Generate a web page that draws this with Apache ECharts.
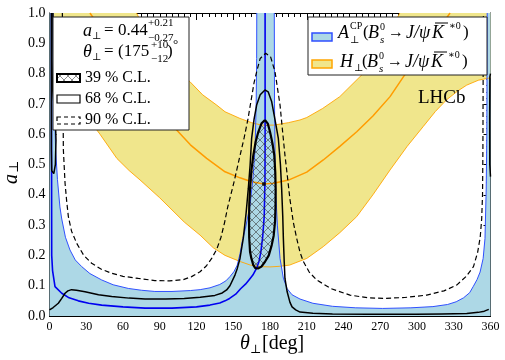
<!DOCTYPE html>
<html>
<head>
<meta charset="utf-8">
<script src="https://cdn.jsdelivr.net/npm/echarts@6/dist/echarts.min.js"></script>
<style>
  html, body { margin: 0; padding: 0; background: #fff; }
  #chartmain { width: 505px; height: 360px; }
</style>
</head>
<body>
<div id="chartmain"></div>
<script>
// all points are [theta_perp in deg, a_perp]
var xMin = 0, xMax = 360, xStep = 30;
var yMin = 0, yMax = 1, yStep = 0.1;

// A_perp^CP band: upper edge left of 180 and right of 180
var blueEdgeLeft = [[2.8,1],[3.3,0.85],[4,0.7],[5,0.55],[6.5,0.45],[8.5,0.36],[10,0.32],[13,0.26],[16.7,0.218],[21,0.185],[26.3,0.163],[33,0.14],[42.6,0.119],[52,0.103],[64.3,0.091],[75,0.085],[86,0.081],[100,0.081],[115,0.084],[123,0.087],[131,0.093],[139,0.104],[144,0.116],[147.3,0.13],[150.5,0.146],[153.3,0.168],[155.5,0.205],[157.5,0.25],[160,0.29],[163.7,0.366],[166,0.45],[167.8,0.55],[168.7,0.7],[169.1,0.85],[169.2,1]];
var blueEdgeRight = [[183.5,1],[183.7,0.7],[184.2,0.5],[184.8,0.4],[186,0.3],[188.2,0.19],[190.9,0.125],[194,0.09],[198,0.07],[204.5,0.056],[215,0.042],[231,0.032],[250,0.027],[272,0.025],[295,0.027],[313,0.031],[325,0.038],[332,0.047],[338,0.06],[343,0.077],[346,0.098],[349,0.12],[351.5,0.145],[354,0.19],[355.5,0.256],[356.5,0.42],[357,0.6],[357.3,1]];
// A_perp^CP central value
var blueCentral = [[1.6,1],[1.7,0.5],[1.8,0.2],[2.5,0.15],[4.5,0.097],[10,0.075],[16,0.06],[23.5,0.05],[32,0.042],[42.6,0.036],[60,0.03],[78,0.026],[100,0.026],[120,0.03],[131,0.036],[139,0.043],[143.3,0.05],[147,0.058],[152,0.072],[156,0.09],[160,0.105],[163,0.12],[166,0.135],[169,0.157],[171,0.18],[172.5,0.21],[174,0.26],[175.3,0.33],[175.9,0.45],[176,0.6],[176,1]];

// H_perp band
var yellowLower = [[2,1],[6,0.92],[10,0.85],[15,0.79],[20,0.74],[30,0.66],[41.2,0.6],[55,0.52],[65,0.48],[73.9,0.449],[90,0.39],[100,0.35],[110,0.31],[122.9,0.267],[133.7,0.225],[143.3,0.2],[155.5,0.18],[164,0.168],[172,0.163],[180,0.162],[188,0.164],[196,0.168],[210,0.19],[223.5,0.229],[237,0.275],[250.8,0.328],[264,0.4],[278,0.482],[292,0.56],[305,0.625],[315,0.675],[324,0.713],[333,0.742],[340.6,0.762],[350,0.778],[357,0.784],[360,0.786]];
var yellowUpper = [[71,1],[80,0.93],[90,0.87],[100,0.83],[114.7,0.773],[125,0.73],[136.5,0.696],[143.3,0.674],[155.5,0.652],[165,0.638],[173,0.63],[183,0.63],[195,0.638],[204.5,0.647],[210,0.655],[223,0.685],[237,0.724],[256,0.8],[270,0.88],[286,1]];
var yellowCentral = [[33,1],[45,0.93],[55,0.87],[69,0.8],[80,0.72],[90,0.67],[103.8,0.614],[115,0.565],[128.3,0.52],[143.3,0.476],[155.5,0.456],[165,0.443],[175,0.436],[183,0.438],[196,0.45],[210,0.475],[223.5,0.515],[237,0.56],[250.8,0.608],[264,0.66],[278,0.724],[289,0.79],[300,0.85],[313,0.92],[327,1]];

// fit contours
var bestFit = [[175, 0.436]];
var contour39 = [[175.9,0.647],[178.2,0.635],[180,0.608],[182,0.57],[183.5,0.531],[184.3,0.475],[184.6,0.421],[184.5,0.36],[184.1,0.311],[183,0.265],[181.4,0.234],[179,0.2],[175.9,0.179],[173,0.163],[170.5,0.157],[168,0.158],[166.4,0.168],[164.8,0.19],[163.7,0.212],[163,0.26],[162.9,0.311],[163.1,0.37],[163.7,0.421],[164.8,0.48],[166.4,0.531],[168.3,0.575],[170.5,0.608],[173,0.635],[175.9,0.647]];
var contour68 = [[0,0.02],[3,0.028],[7.2,0.042],[10,0.058],[12.7,0.075],[15,0.083],[18,0.087],[22,0.085],[29,0.08],[40,0.07],[50.8,0.064],[65,0.059],[78,0.056],[95,0.056],[110,0.058],[123,0.062],[135,0.068],[141,0.076],[144.6,0.086],[147.3,0.1],[151.4,0.135],[153.3,0.157],[155.5,0.19],[158.2,0.257],[160.5,0.34],[162.3,0.421],[163.8,0.5],[165,0.586],[167,0.65],[169.1,0.696],[172,0.73],[175.9,0.746],[178.5,0.74],[181.4,0.707],[184,0.65],[186.8,0.586],[188.5,0.5],[189.5,0.421],[190.4,0.33],[190.9,0.257],[191.6,0.18],[192.2,0.124],[194,0.08],[196.3,0.045],[198,0.03],[201,0.02],[204.5,0.013],[215,0.009],[231,0.007],[260,0.006],[299,0.006],[320,0.007],[340.6,0.008],[350,0.012],[355,0.016],[358.6,0.022],[360,0.025]];
var contour68EdgeLeft = [[2.8,1],[3,0.85],[2.6,0.75],[3.2,0.72],[4.8,0.65],[5.3,0.58],[4.8,0.5],[3.5,0.47],[2.5,0.465],[1.8,0.48],[1.5,0.55],[1.5,1]];
var contour68EdgeRight = [[360,0.46],[359.4,0.5],[359.3,0.65],[359.5,0.79],[360,0.8]];
var contour90 = [[10.5,1],[11,0.75],[11.3,0.55],[12.7,0.438],[14,0.38],[15.4,0.328],[18,0.28],[22.2,0.24],[28,0.2],[34.4,0.174],[42,0.155],[50.8,0.141],[60,0.131],[72.5,0.124],[86,0.117],[98,0.116],[109.2,0.12],[116,0.13],[122.9,0.146],[128,0.165],[132.4,0.19],[136.5,0.22],[140,0.26],[143,0.31],[145.5,0.36],[148,0.4],[150.5,0.44],[155,0.52],[159,0.59],[162,0.65],[164.5,0.71],[167,0.77],[169.1,0.806],[172,0.85],[176.5,0.867],[180.5,0.855],[184.1,0.806],[188.2,0.696],[190.5,0.6],[192.2,0.531],[194.5,0.45],[196.3,0.385],[199,0.31],[201.8,0.256],[204.5,0.21],[207.2,0.18],[212,0.145],[218.1,0.119],[230,0.09],[245.3,0.069],[260,0.06],[272.5,0.058],[290,0.061],[308,0.069],[322,0.083],[332.4,0.102],[340,0.13],[346.1,0.163],[349.5,0.21],[351.6,0.26],[352.8,0.32],[353.5,0.4],[353.8,0.55],[354,0.8],[354.2,1]];

var SERIF = "'Liberation Serif', 'DejaVu Serif', serif";
var LIGHTBLUE = "#add8e6", KHAKI = "#f0e68c", ORANGE = "#ffa500";

// cross hatch tile for the 39% region (as a data url so echarts can copy the style)
var hatch = document.createElement("canvas");
hatch.width = 8; hatch.height = 8;
var hctx = hatch.getContext("2d");
hctx.strokeStyle = "rgba(50,50,50,0.8)";
hctx.lineWidth = 0.7;
hctx.beginPath();
hctx.moveTo(0, 0); hctx.lineTo(8, 8);
hctx.moveTo(8, 0); hctx.lineTo(0, 8);
hctx.stroke();
var hatchUrl = hatch.toDataURL();
function hatchFill() { return { image: hatchUrl, repeat: "repeat" }; }

function polygonSeries(points, fill) {
  return {
    type: "custom",
    coordinateSystem: "cartesian2d",
    clip: true,
    z: 2,
    data: [[0, 0]],
    silent: true,
    renderItem: function(params, api) {
      var pts = points.map(function(p) { return api.coord(p); });
      return { type: "polygon", shape: { points: pts }, style: { fill: fill, stroke: null } };
    }
  };
}

function lineSeries(data, color, width, dashed, z) {
  return {
    type: "line",
    data: data,
    z: z,
    showSymbol: false,
    symbol: "none",
    silent: true,
    lineStyle: { color: color, width: width, type: dashed ? [5, 3] : "solid" }
  };
}

// yellow band outline: lower edge, then along the top, then upper edge back
var bandTop = [[360, 1]];
var yellowBand = yellowLower.concat(bandTop, yellowUpper.slice().reverse());
var blueFill = [[0, 1]].concat(blueEdgeLeft, blueEdgeRight, [[360, 1]]);

function txt(x, y, s, size, italic) {
  return {
    type: "text", x: x, y: y, z: 100,
    style: {
      text: s, fontFamily: SERIF, fontSize: size,
      fontStyle: italic ? "italic" : "normal",
      fill: "#000", align: "left", verticalAlign: "middle"
    }
  };
}

function axisCommon(pos, isX, showLabel) {
  return {
    type: "value",
    position: pos,
    min: isX ? xMin : yMin,
    max: isX ? xMax : yMax,
    interval: isX ? xStep : yStep,
    axisLine: { show: true, onZero: false, lineStyle: { color: "#000", width: 1 } },
    axisTick: { show: true, inside: true, length: 7, lineStyle: { color: "#000", width: 1 } },
    minorTick: { show: true, splitNumber: isX ? 6 : 5, length: 4, lineStyle: { color: "#000", width: 1 } },
    splitLine: { show: false },
    axisLabel: {
      show: showLabel,
      fontFamily: SERIF,
      fontSize: isX ? 12 : 14,
      color: "#000",
      margin: isX ? 5 : 4,
      formatter: isX ? "{value}" : function(v) { return v.toFixed(1); }
    }
  };
}

var graphics = [
  // left legend
  { type: "rect", z: 99, shape: { x: 53, y: 17, width: 136, height: 113 }, style: { fill: "#fff", stroke: "#222", lineWidth: 1 } },
  txt(83, 31, "a", 18, true), txt(92, 36, "⊥", 10), txt(104, 31, "=", 17), txt(118, 31, "0.44", 17),
  txt(148, 23, "+0.21", 11), txt(148, 38, "−0.27", 11),
  txt(83, 52, "θ", 18, true), txt(92, 57, "⊥", 10), txt(104, 52, "=", 17), txt(118, 52, "(175", 17),
  txt(151, 45, "+10", 11), txt(151, 59, "−12", 11), txt(167, 52, ")", 17), txt(173, 45, "°", 13),
  { type: "rect", z: 100, shape: { x: 57, y: 74, width: 23, height: 8 }, style: { fill: hatchFill(), stroke: "#000", lineWidth: 2 } },
  txt(85, 78, "39 % C.L.", 16),
  { type: "rect", z: 100, shape: { x: 57, y: 95, width: 23, height: 8 }, style: { fill: "#fff", stroke: "#000", lineWidth: 1.2 } },
  txt(85, 99, "68 % C.L.", 16),
  { type: "rect", z: 100, shape: { x: 57, y: 117, width: 23, height: 7 }, style: { fill: "#fff", stroke: "#000", lineWidth: 1.2, lineDash: [4, 3] } },
  txt(85, 120, "90 % C.L.", 16),
  // right legend
  { type: "rect", z: 99, shape: { x: 308, y: 17, width: 179, height: 58 }, style: { fill: "#fff", stroke: "#222", lineWidth: 1 } },
  { type: "rect", z: 100, shape: { x: 312, y: 33, width: 20, height: 8 }, style: { fill: LIGHTBLUE, stroke: "#2f4fff", lineWidth: 1.5 } },
  txt(338, 33, "A", 18, true), txt(350, 26, "CP", 10), txt(350, 40, "⊥", 10),
  txt(363, 33, "(", 17), txt(368, 33, "B", 18, true), txt(380, 27, "0", 10), txt(380, 40, "s", 11, true),
  txt(388, 33, "→", 16), txt(406, 33, "J/ψ", 18, true), txt(432, 33, "K", 18, true),
  { type: "line", z: 100, shape: { x1: 435, y1: 23, x2: 448, y2: 23 }, style: { stroke: "#000", lineWidth: 1 } },
  txt(449, 26, "∗0", 10), txt(463, 33, ")", 17),
  { type: "rect", z: 100, shape: { x: 312, y: 60, width: 20, height: 8 }, style: { fill: KHAKI, stroke: ORANGE, lineWidth: 1.5 } },
  txt(340, 62, "H", 18, true), txt(354, 68, "⊥", 10),
  txt(362, 62, "(", 17), txt(367, 62, "B", 18, true), txt(379, 56, "0", 10), txt(379, 69, "s", 11, true),
  txt(387, 62, "→", 16), txt(405, 62, "J/ψ", 18, true), txt(431, 62, "K", 18, true),
  { type: "line", z: 100, shape: { x1: 434, y1: 52, x2: 447, y2: 52 }, style: { stroke: "#000", lineWidth: 1 } },
  txt(448, 55, "∗0", 10), txt(462, 62, ")", 17),
  // experiment label
  txt(418, 98, "LHCb", 19),
  // axis titles
  txt(240, 344, "θ", 20, true), txt(250, 350, "⊥", 12), txt(262, 344, "[deg]", 20),
  { type: "text", x: 12, y: 179, rotation: Math.PI / 2, z: 100,
    style: { text: "a", fontFamily: SERIF, fontSize: 20, fontStyle: "italic", fill: "#000", align: "center", verticalAlign: "middle" } },
  { type: "text", x: 15, y: 167, rotation: Math.PI / 2, z: 100,
    style: { text: "⊥", fontFamily: SERIF, fontSize: 13, fill: "#000", align: "center", verticalAlign: "middle" } }
];

var option = {
  animation: false,
  backgroundColor: "#fff",
  grid: { left: 49.5, right: 14.5, top: 13, bottom: 44 },
  xAxis: [axisCommon("bottom", true, true), axisCommon("top", true, false)],
  yAxis: [axisCommon("left", false, true), axisCommon("right", false, false)],
  series: [
    polygonSeries(yellowBand, KHAKI),
    {
      type: "line", data: blueFill, z: 3, showSymbol: false, symbol: "none", silent: true,
      lineStyle: { width: 0, opacity: 0 },
      areaStyle: { color: LIGHTBLUE, opacity: 1 }
    },
    lineSeries(yellowLower, ORANGE, 0.9, false, 4),
    lineSeries(yellowUpper, ORANGE, 0.9, false, 4),
    lineSeries(yellowCentral, "#ff9c00", 1.5, false, 4),
    lineSeries(blueEdgeLeft, "#3050ff", 1, false, 4),
    lineSeries(blueEdgeRight, "#3050ff", 1, false, 4),
    lineSeries(blueCentral, "#0000f0", 1.6, false, 4),
    lineSeries(contour39, "#000", 2.2, false, 6),
    lineSeries(contour68, "#000", 1.5, false, 6),
    lineSeries(contour68EdgeLeft, "#000", 1.5, false, 6),
    lineSeries(contour68EdgeRight, "#000", 1.5, false, 6),
    lineSeries(contour90, "#000", 1.2, true, 6),
    { type: "scatter", data: bestFit, z: 6, symbolSize: 4, itemStyle: { color: "#000" }, silent: true }
  ]
};

var myChart = echarts.init(document.getElementById("chartmain"));
myChart.setOption(option);

// hatched 39% region: points placed through the chart's own axes
var hatchPts = contour39.map(function(p) {
  return myChart.convertToPixel({ xAxisIndex: 0, yAxisIndex: 0 }, p);
});
graphics.unshift({ type: "polygon", z: 5, silent: true, shape: { points: hatchPts }, style: { fill: hatchFill(), stroke: null } });
myChart.setOption({ graphic: { elements: graphics } });
</script>
</body>
</html>
